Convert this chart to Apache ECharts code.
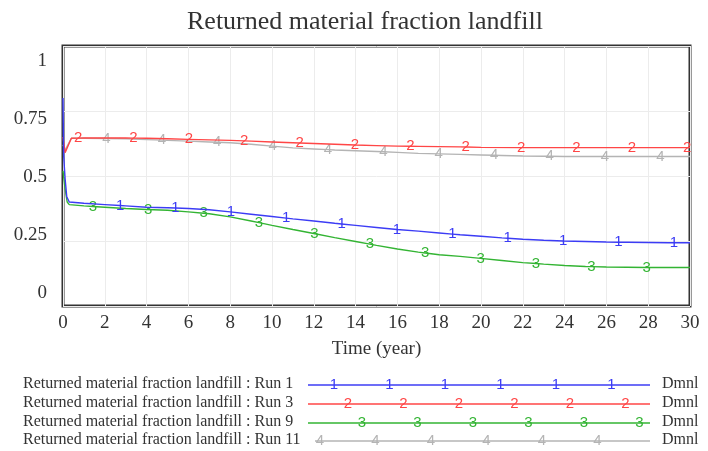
<!DOCTYPE html>
<html>
<head>
<meta charset="utf-8">
<script src="https://cdn.jsdelivr.net/npm/echarts@6/dist/echarts.min.js"></script>
<style>
  html, body { margin: 0; padding: 0; background: #fff; }
  #main { width: 708px; height: 451px; }
</style>
</head>
<body>
<div id="main"></div>
<script>
// Run 1 (blue)
const run1Time = [0, 0.03, 0.1, 0.18, 0.3, 1, 2, 3, 4, 5, 6, 7, 8, 9, 10, 11, 12, 13, 14, 15, 16, 17, 18, 19, 20, 21, 22, 23, 24, 25, 26, 27, 28, 29, 30]
const run1Value = [0.80, 0.58, 0.49, 0.42, 0.40, 0.395, 0.39, 0.385, 0.38, 0.378, 0.375, 0.37, 0.362, 0.353, 0.344, 0.335, 0.327, 0.318, 0.31, 0.302, 0.294, 0.288, 0.281, 0.274, 0.268, 0.262, 0.257, 0.253, 0.25, 0.248, 0.246, 0.245, 0.244, 0.243, 0.243]
// Run 3 (red)
const run3Time = [0, 0.1, 0.4, 1, 2, 3, 4, 5, 6, 7, 8, 9, 10, 11, 12, 13, 14, 15, 16, 17, 18, 19, 20, 22, 24, 26, 28, 30]
const run3Value = [0.65, 0.59, 0.645, 0.646, 0.646, 0.646, 0.645, 0.643, 0.641, 0.639, 0.637, 0.634, 0.631, 0.628, 0.625, 0.622, 0.619, 0.617, 0.615, 0.614, 0.613, 0.612, 0.61, 0.609, 0.609, 0.609, 0.609, 0.609]
// Run 9 (green)
const run9Time = [0, 0.1, 0.2, 0.3, 1, 2, 3, 4, 5, 6, 7, 8, 9, 10, 11, 12, 13, 14, 15, 16, 17, 18, 19, 20, 21, 22, 23, 24, 25, 26, 27, 28, 29, 30]
const run9Value = [0.52, 0.45, 0.40, 0.39, 0.385, 0.38, 0.375, 0.371, 0.368, 0.362, 0.355, 0.343, 0.327, 0.31, 0.294, 0.279, 0.263, 0.248, 0.233, 0.219, 0.207, 0.197, 0.191, 0.183, 0.175, 0.167, 0.161, 0.156, 0.152, 0.15, 0.149, 0.148, 0.148, 0.148]
// Run 11 (gray)
const run11Time = [0, 0.1, 0.4, 1, 2, 3, 4, 5, 6, 7, 8, 9, 10, 11, 12, 13, 14, 15, 16, 17, 18, 19, 20, 21, 22, 23, 24, 26, 28, 30]
const run11Value = [0.62, 0.6, 0.645, 0.645, 0.644, 0.643, 0.64, 0.637, 0.634, 0.631, 0.628, 0.622, 0.615, 0.608, 0.604, 0.6, 0.597, 0.594, 0.591, 0.587, 0.585, 0.583, 0.581, 0.579, 0.577, 0.576, 0.575, 0.575, 0.575, 0.575]

// times where the run number is written on each line
const run1Marks = [2.73, 5.38, 8.03, 10.68, 13.33, 15.98, 18.63, 21.28, 23.93, 26.58, 29.23]
const run3Marks = [0.72, 3.37, 6.02, 8.67, 11.32, 13.97, 16.62, 19.27, 21.92, 24.57, 27.22, 29.87]
const run9Marks = [1.43, 4.08, 6.73, 9.38, 12.03, 14.68, 17.33, 19.98, 22.63, 25.28, 27.93]
const run11Marks = [2.08, 4.73, 7.38, 10.03, 12.68, 15.33, 17.98, 20.63, 23.28, 25.93, 28.58]

const xTicks = [0, 30, 2]       // min, max, interval
const yTickLabels = [0, 0.25, 0.5, 0.75, 1]
const runNames = ['Run 1', 'Run 3', 'Run 9', 'Run 11']
const varName = 'Returned material fraction landfill'
const unitName = 'Dmnl'

const colors = ['#3c3cf5', '#ff4646', '#33b433', '#b4b4b4']
const serif = '"Liberation Serif", "DejaVu Serif", serif'
const markFont = '15px "Liberation Sans", "DejaVu Sans", sans-serif'

/* 在曲线上插值出标记点的y值 */
function valueAt(ts, vs, t) {
  for (let i = 1; i < ts.length; i++) {
    if (t <= ts[i]) {
      const k = (t - ts[i - 1]) / (ts[i] - ts[i - 1])
      return vs[i - 1] + k * (vs[i] - vs[i - 1])
    }
  }
  return vs[vs.length - 1]
}

function buildData(ts, vs, marks, num) {
  const pts = ts.map((t, i) => ({ value: [t, vs[i]] }))
  marks.forEach(m => {
    pts.push({
      value: [m, valueAt(ts, vs, m)],
      label: { show: true, formatter: num }
    })
  })
  pts.sort((a, b) => a.value[0] - b.value[0])
  return pts
}

const runs = [
  [run1Time, run1Value, run1Marks, '1'],
  [run3Time, run3Value, run3Marks, '2'],
  [run9Time, run9Value, run9Marks, '3'],
  [run11Time, run11Value, run11Marks, '4']
]

const series = runs.map((r, i) => ({
  name: runNames[i],
  type: 'line',
  data: buildData(r[0], r[1], r[2], r[3]),
  symbol: 'circle',
  symbolSize: 0,
  showSymbol: true,
  showAllSymbol: true,
  lineStyle: { color: colors[i], width: 1.4 },
  itemStyle: { color: colors[i] },
  label: {
    show: false,
    position: 'inside',
    color: colors[i],
    fontFamily: '"Liberation Sans", "DejaVu Sans", sans-serif',
    fontSize: 15
  },
  emphasis: { disabled: true },
  z: 10 - i
}))

// 图例 (Vensim 风格)
const legendRows = [385, 404, 423, 441]
const legendMarkStart = [334, 348, 362, 320]
const graphics = []
runNames.forEach((rn, i) => {
  const y = legendRows[i]
  graphics.push({
    type: 'text', left: 23, top: y - 9,
    style: { text: varName + ' : ' + rn, font: '16px ' + serif, fill: '#333' }
  })
  graphics.push({
    type: 'line',
    shape: { x1: i === 3 ? 315 : 308, y1: y, x2: 650, y2: y },
    style: { stroke: colors[i], lineWidth: 1.4 }
  })
  for (let x = legendMarkStart[i]; x < 650; x += 55.5) {
    graphics.push({
      type: 'text', x: x, y: y,
      style: { text: String(i + 1), font: markFont, fill: colors[i], align: 'center', verticalAlign: 'middle' }
    })
  }
  graphics.push({
    type: 'text', left: 662, top: y - 9,
    style: { text: unitName, font: '16px ' + serif, fill: '#333' }
  })
})

var myChart = echarts.init(document.getElementById('main'))
var option = {
  animation: false,
  title: {
    text: varName,
    left: 182,
    top: 4,
    textStyle: { fontFamily: serif, fontSize: 26, fontWeight: 'normal', color: '#333' }
  },
  grid: {
    left: 63, right: 18, top: 46, bottom: 145,
    show: true, borderColor: '#333', borderWidth: 3
  },
  xAxis: {
    type: 'value',
    min: xTicks[0], max: xTicks[1], interval: xTicks[2],
    name: 'Time (year)',
    nameLocation: 'middle',
    nameGap: 34,
    nameTextStyle: { fontFamily: serif, fontSize: 19, color: '#333' },
    axisLine: { show: false },
    axisTick: { show: false },
    axisLabel: { fontFamily: serif, fontSize: 19, color: '#333', margin: 8 },
    splitLine: { lineStyle: { color: '#ececec', width: 1 } }
  },
  yAxis: [
    {
      type: 'value', min: 0, max: 1, interval: 0.25,
      axisLine: { show: false }, axisTick: { show: false },
      axisLabel: { show: false },
      splitLine: { lineStyle: { color: '#ececec', width: 1 } }
    },
    {
      // Vensim 的刻度文字跟网格线不对齐, 用一个隐藏的轴来放
      type: 'value', position: 'left', min: -0.056, max: 1.065,
      axisLine: { show: false }, axisTick: { show: false },
      splitLine: { show: false },
      axisLabel: {
        customValues: yTickLabels,
        fontFamily: serif, fontSize: 19, color: '#333', margin: 16,
        formatter: v => String(v)
      }
    }
  ],
  series: series,
  graphic: graphics
}
myChart.setOption(option)
</script>
</body>
</html>
